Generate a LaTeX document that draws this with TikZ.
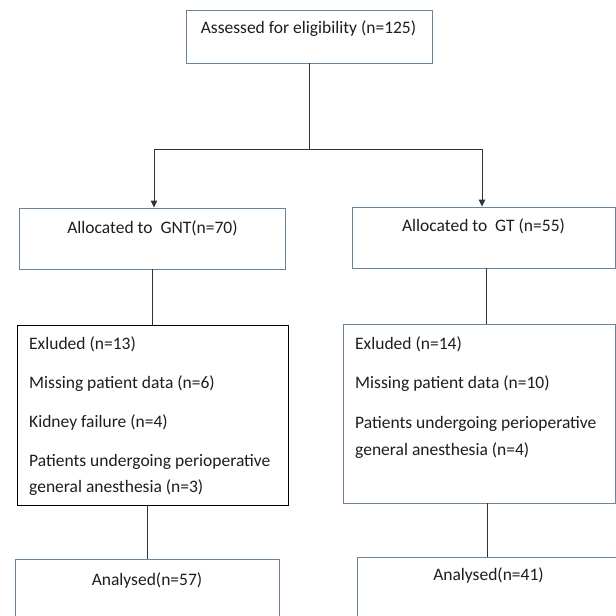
\documentclass[tikz,border=0pt]{standalone}
\usepackage{fontspec}
\setmainfont{Carlito}
\usetikzlibrary{arrows.meta}
\definecolor{boxblue}{HTML}{6A849A}
\definecolor{txtc}{HTML}{1E1E1E}
\definecolor{linec}{HTML}{333333}
\tikzset{
  bx/.style={draw=boxblue, line width=0.9pt, rectangle, inner sep=0pt, fill=white},
  bxk/.style={draw=black, line width=0.9pt, rectangle, inner sep=0pt, fill=white},
  ctxt/.style={anchor=base, inner sep=0pt, text=txtc, font=\fontsize{17.5}{20}\selectfont},
  ltxt/.style={anchor=base west, inner sep=0pt, text=txtc, font=\fontsize{17.5}{20}\selectfont},
  conn/.style={draw=linec, line width=0.9pt},
  arr/.style={conn, -{Triangle[length=7pt,width=6.5pt]}}
}
\begin{document}
\begin{tikzpicture}[x=1pt,y=-1pt]
\useasboundingbox (0,0) rectangle (616,616);
\clip (0,0) rectangle (616,616);
% boxes
\node[bx, minimum width=246pt, minimum height=53pt] (top) at (309.7,36.5) {};
\node[bx, minimum width=266pt, minimum height=61pt] (al1) at (152,238.5) {};
\node[bx, minimum width=263pt, minimum height=61pt] (al2) at (483.5,237.5) {};
\node[bxk, minimum width=271pt, minimum height=180pt] (ex1) at (152.5,415) {};
\node[bx, minimum width=272.5pt, minimum height=179pt] (ex2) at (479.25,413.5) {};
\node[bx, minimum width=264pt, minimum height=81pt] (an1) at (147,599.5) {};
\node[bx, minimum width=283pt, minimum height=83pt] (an2) at (498.5,598.5) {};
% texts
\node[ctxt] (t0) at (308.5,33) {Assessed for eligibility (n=125)};
\node[ctxt] (t1) at (152.5,233) {Allocated to \ GNT(n=70)};
\node[ctxt] (t2) at (483.5,231) {Allocated to \ GT (n=55)};
\node[ltxt] (e1a) at (29,349) {Exluded (n=13)};
\node[ltxt] (e1b) at (29,388) {Missing patient data (n=6)};
\node[ltxt] (e1c) at (29,427) {Kidney failure (n=4)};
\node[ltxt] (e1d) at (29,466) {Patients undergoing perioperative};
\node[ltxt] (e1e) at (29,492) {general anesthesia (n=3)};
\node[ltxt] (e2a) at (355,349) {Exluded (n=14)};
\node[ltxt] (e2b) at (355,388) {Missing patient data (n=10)};
\node[ltxt] (e2c) at (355,428) {Patients undergoing perioperative};
\node[ltxt] (e2d) at (355,455) {general anesthesia (n=4)};
\node[ctxt] (a1) at (147,585) {Analysed(n=57)};
\node[ctxt] (a2) at (488.5,580) {Analysed(n=41)};
% connectors
\coordinate (split) at (309.7,149);
\draw[conn] (top.south) -- (split);
\draw[arr] (split) -| ([xshift=2pt]al1.north);
\draw[arr] (split) -| ([xshift=-1.5pt]al2.north);
\draw[conn] (al1.south) -- (al1.south |- ex1.north);
\draw[conn] ([xshift=2.5pt]al2.south) -- ([xshift=2.5pt]al2.south |- ex2.north);
\draw[conn] (an1.north |- ex1.south) -- (an1.north);
\draw[conn] ([xshift=7.75pt]ex2.south) -- ([xshift=7.75pt]ex2.south |- an2.north);
\end{tikzpicture}
\end{document}
